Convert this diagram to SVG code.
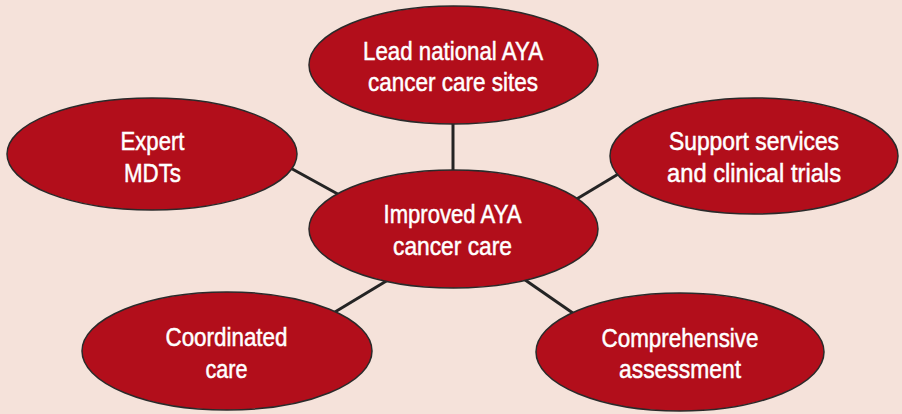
<svg xmlns="http://www.w3.org/2000/svg" width="902" height="414" viewBox="0 0 902 414">
<style>
.node ellipse{fill:#b20e1b;stroke:#2a2a2a;stroke-width:1.5}
.node text{fill:#ffffff;stroke:#ffffff;stroke-width:0.5;font-family:"Liberation Sans",Arial,sans-serif;font-size:26px;text-anchor:middle}
.edges line{stroke:#242424;stroke-width:3}
</style>
<rect width="902" height="414" fill="#f5e2da"/>
<g class="edges">
<line x1="453" y1="118" x2="453" y2="176"/>
<line x1="285" y1="165" x2="345" y2="198"/>
<line x1="625" y1="170" x2="570" y2="203"/>
<line x1="325" y1="318" x2="388" y2="280"/>
<line x1="518" y1="275" x2="580" y2="318"/>
</g>
<g id="top" class="node">
<ellipse cx="453.5" cy="65" rx="144.5" ry="59"/>
<text x="453" y="60" textLength="180" lengthAdjust="spacingAndGlyphs">Lead national AYA</text>
<text x="453" y="91" textLength="170" lengthAdjust="spacingAndGlyphs">cancer care sites</text>
</g>
<g id="left" class="node">
<ellipse cx="152" cy="154" rx="145" ry="56"/>
<text x="152.5" y="150" textLength="64" lengthAdjust="spacingAndGlyphs">Expert</text>
<text x="152.5" y="182" textLength="57" lengthAdjust="spacingAndGlyphs">MDTs</text>
</g>
<g id="right" class="node">
<ellipse cx="754" cy="156" rx="144" ry="58"/>
<text x="754" y="150" textLength="170" lengthAdjust="spacingAndGlyphs">Support services</text>
<text x="754" y="182" textLength="174" lengthAdjust="spacingAndGlyphs">and clinical trials</text>
</g>
<g id="center" class="node">
<ellipse cx="453.5" cy="229" rx="144.5" ry="59"/>
<text x="452.5" y="223" textLength="138" lengthAdjust="spacingAndGlyphs">Improved AYA</text>
<text x="452.5" y="255" textLength="119" lengthAdjust="spacingAndGlyphs">cancer care</text>
</g>
<g id="bottomleft" class="node">
<ellipse cx="227" cy="351" rx="145" ry="59"/>
<text x="226.5" y="346" textLength="122" lengthAdjust="spacingAndGlyphs">Coordinated</text>
<text x="226.5" y="378" textLength="42" lengthAdjust="spacingAndGlyphs">care</text>
</g>
<g id="bottomright" class="node">
<ellipse cx="680" cy="352" rx="144" ry="59"/>
<text x="680" y="347" textLength="157" lengthAdjust="spacingAndGlyphs">Comprehensive</text>
<text x="680" y="378" textLength="122" lengthAdjust="spacingAndGlyphs">assessment</text>
</g>
</svg>
